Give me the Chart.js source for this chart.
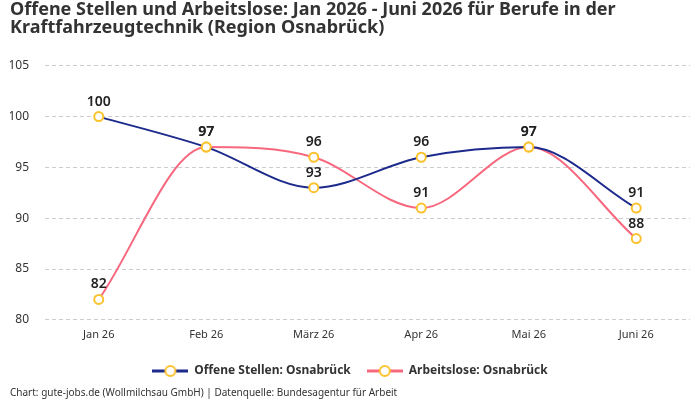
<!DOCTYPE html>
<html>
<head>
<meta charset="utf-8">
<script src="https://cdn.jsdelivr.net/npm/chart.js@4.4.1/dist/chart.umd.min.js"></script>
<style>
  html, body { margin: 0; padding: 0; background: #fff; }
  #wrap { width: 700px; height: 400px; }
</style>
</head>
<body>
<div id="wrap"><canvas id="chart"></canvas></div>
<script>
// Daten
const months = ['Jan 26', 'Feb 26', 'März 26', 'Apr 26', 'Mai 26', 'Juni 26'];
const offeneStellen = [100, 97, 93, 96, 97, 91];
const arbeitslose = [82, 97, 96, 91, 97, 88];
const yTicks = [80, 85, 90, 95, 100, 105];

const FONT = '"Noto Sans", sans-serif';
const NAVY = '#1c2a8c';
const PINK = '#f7687f';
const YELLOW = '#fcc22d';

// Legend icon: line with hollow circle
function legendIcon(color) {
    const c = document.createElement('canvas');
    c.width = 36; c.height = 14;
    const ctx = c.getContext('2d');
    ctx.strokeStyle = color; ctx.lineWidth = 3;
    ctx.beginPath(); ctx.moveTo(0, 7); ctx.lineTo(36, 7); ctx.stroke();
    ctx.fillStyle = '#fff'; ctx.strokeStyle = YELLOW; ctx.lineWidth = 2;
    ctx.beginPath(); ctx.arc(18, 7, 5, 0, Math.PI * 2); ctx.fill(); ctx.stroke();
    return c;
}

// Werte über den Punkten
const valueLabels = {
    id: 'valueLabels',
    afterDatasetsDraw(chart) {
        const ctx = chart.ctx;
        ctx.save();
        ctx.font = '600 14px ' + FONT;
        ctx.fillStyle = '#222';
        ctx.textAlign = 'center';
        ctx.textBaseline = 'middle';
        chart.data.datasets.forEach((ds, i) => {
            chart.getDatasetMeta(i).data.forEach((pt, j) => {
                ctx.fillText(String(ds.data[j]), pt.x, pt.y - 15);
            });
        });
        ctx.restore();
    }
};

new Chart(document.getElementById('chart'), {
    type: 'line',
    data: {
        labels: months,
        datasets: [
            { label: 'Offene Stellen: Osnabrück', data: offeneStellen, borderColor: NAVY, borderWidth: 2 },
            { label: 'Arbeitslose: Osnabrück', data: arbeitslose, borderColor: PINK, borderWidth: 2 }
        ].map(d => Object.assign(d, {
            cubicInterpolationMode: 'monotone',
            pointRadius: 4.5, pointBorderWidth: 2,
            pointBorderColor: YELLOW, pointBackgroundColor: '#fff'
        }))
    },
    options: {
        responsive: true,
        maintainAspectRatio: false,
        animation: false,
        layout: { padding: { left: 10, right: 10, top: 0, bottom: 1 } },
        plugins: {
            title: {
                display: true, align: 'start',
                text: ['Offene Stellen und Arbeitslose: Jan 2026 - Juni 2026 für Berufe in der', 'Kraftfahrzeugtechnik (Region Osnabrück)'],
                color: '#333', font: { family: FONT, size: 18, weight: 'bold', lineHeight: 1.05 },
                padding: { top: 0, bottom: 28 }
            },
            subtitle: {
                display: true, position: 'bottom', align: 'start',
                text: 'Chart: gute-jobs.de (Wollmilchsau GmbH) | Datenquelle: Bundesagentur für Arbeit',
                color: '#333', font: { family: FONT, size: 10 },
                padding: { top: 0, bottom: 0 }
            },
            legend: {
                position: 'bottom',
                labels: {
                    usePointStyle: true, pointStyleWidth: 36,
                    color: '#333', font: { family: FONT, size: 12, weight: 'bold' },
                    padding: 16,
                    generateLabels(chart) {
                        return chart.data.datasets.map((ds, i) => ({
                            text: ds.label, datasetIndex: i,
                            pointStyle: legendIcon(ds.borderColor),
                            fillStyle: '#fff', strokeStyle: ds.borderColor, lineWidth: 0,
                            fontColor: '#333'
                        }));
                    }
                }
            },
            tooltip: { enabled: false }
        },
        scales: {
            x: {
                offset: true,
                grid: { display: false, drawTicks: false },
                border: { display: false },
                ticks: { color: '#333', font: { family: FONT, size: 11 }, padding: 8 }
            },
            y: {
                min: 80, max: 105,
                afterFit(s) { s.width = 35; },
                afterBuildTicks(s) { s.ticks = yTicks.map(v => ({ value: v })); },
                grid: { color: '#cccccc', drawTicks: false },
                border: { display: false, dash: [4, 3] },
                ticks: { color: '#333', font: { family: FONT, size: 12 }, padding: 16 }
            }
        }
    },
    plugins: [valueLabels]
});
</script>
</body>
</html>
